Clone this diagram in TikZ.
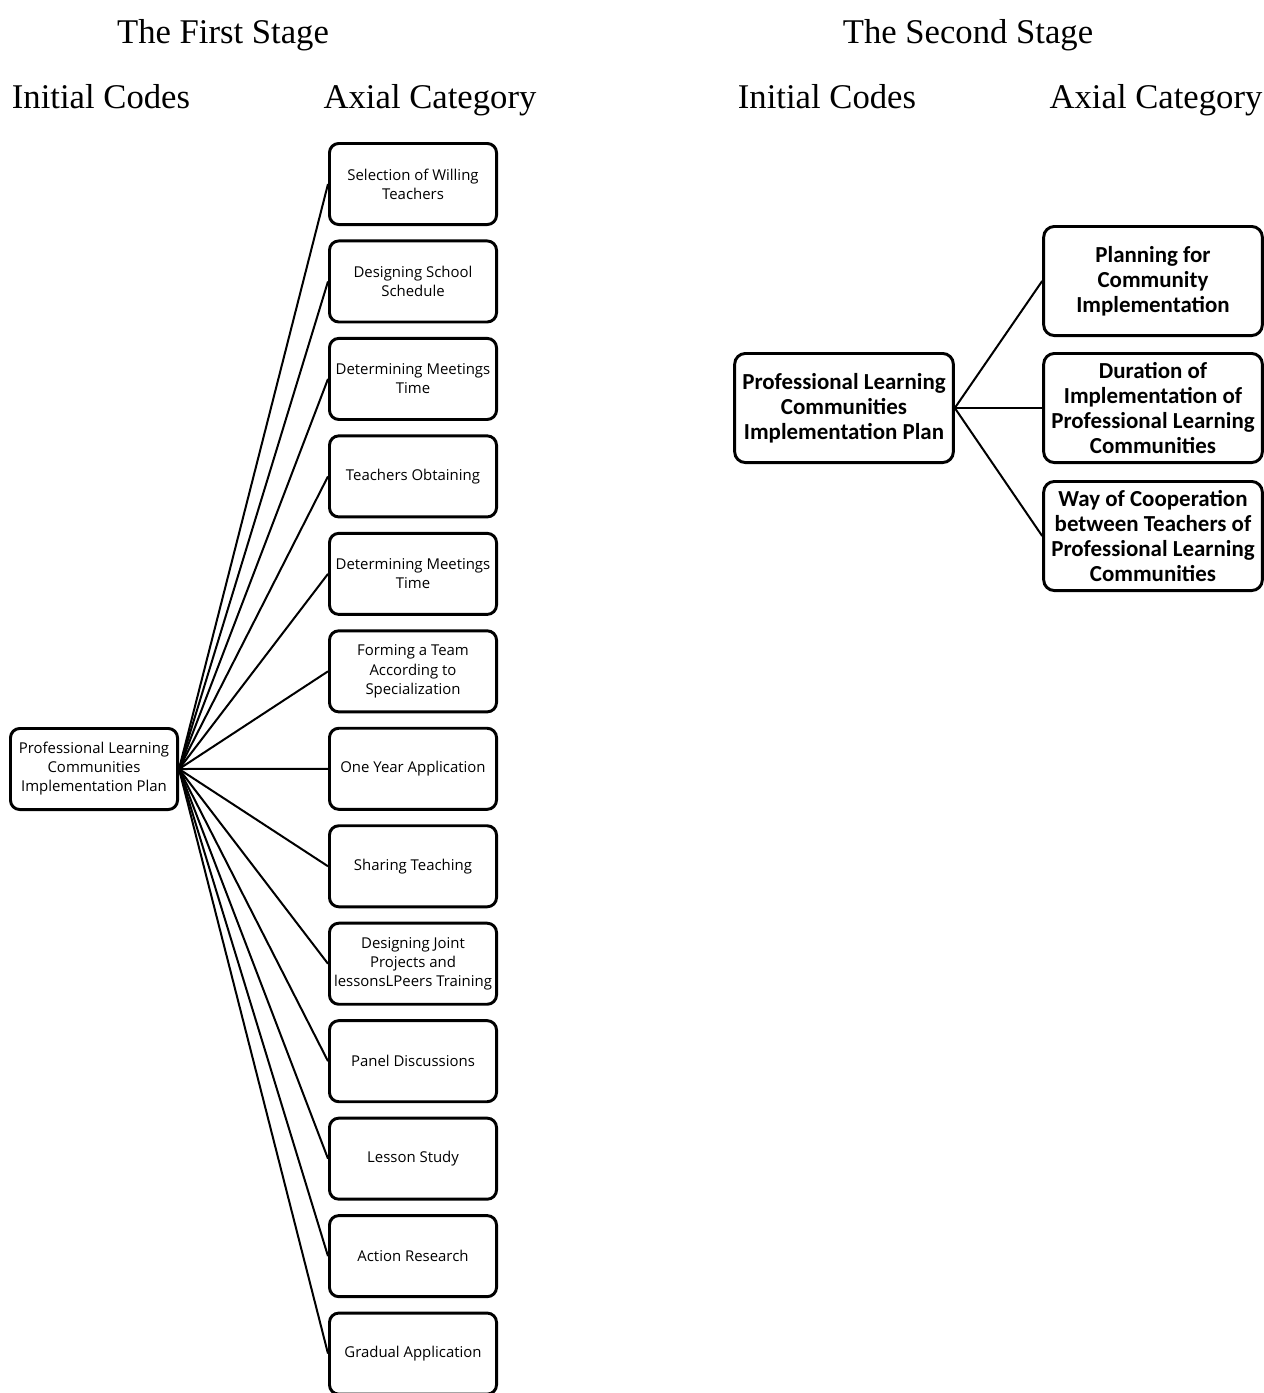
\documentclass[tikz,border=0pt]{standalone}
\usepackage{fontspec}
\setmainfont{Liberation Serif}
\newfontfamily\boxfont{Open Sans}
\newfontfamily\axialfont{Carlito}
\usetikzlibrary{positioning}

\begin{document}
\begin{tikzpicture}[
    x=0.75pt, y=-0.75pt,
    node distance=10.1pt,
    heading/.style={inner sep=0pt, anchor=base, font=\fontsize{26}{30}\selectfont},
    code/.style={draw, line width=2.2pt, rounded corners=7pt, align=center, inner sep=0pt, minimum width=125.3pt, minimum height=60.8pt, font=\boxfont\fontsize{11.2}{14.3}\selectfont},
    axial/.style={draw, line width=2.2pt, rounded corners=8pt, align=center, inner sep=0pt, minimum width=164pt, minimum height=81.8pt, font=\axialfont\bfseries\fontsize{17.2}{18.8}\selectfont},
    link/.style={line width=1.5pt}
]
\useasboundingbox (0,0) rectangle (1264,1393);

% headings
\node[heading] (stage1) at (223,43) {The First Stage};
\node[heading] (init1) at (101,108) {Initial Codes};
\node[heading] (axis1) at (430,108) {Axial Category};
\node[heading] (stage2) at (968,43) {The Second Stage};
\node[heading] (init2) at (827,108) {Initial Codes};
\node[heading] (axis2) at (1156,108) {Axial Category};

% first stage
\node[code] (plan1) at (94,769) {Professional Learning\\Communities\\Implementation Plan};
\node[code] (sel) at (413,184) {Selection of Willing\\Teachers};
\node[code, below=of sel] (sched) {Designing School\\Schedule};
\node[code, below=of sched] (meet1) {Determining Meetings\\Time};
\node[code, below=of meet1] (obtain) {Teachers Obtaining};
\node[code, below=of obtain] (meet2) {Determining Meetings\\Time};
\node[code, below=of meet2] (team) {Forming a Team\\According to\\Specialization};
\node[code, below=of team] (year) {One Year Application};
\node[code, below=of year] (share) {Sharing Teaching};
\node[code, below=of share] (joint) {Designing Joint\\Projects and\\lessonsLPeers Training};
\node[code, below=of joint] (panel) {Panel Discussions};
\node[code, below=of panel] (study) {Lesson Study};
\node[code, below=of study] (action) {Action Research};
\node[code, below=of action] (gradual) {Gradual Application};
\foreach \n in {sel,sched,meet1,obtain,meet2,team,year,share,joint,panel,study,action,gradual}
    \draw[link] (plan1.east) -- (\n.west);

% second stage
\node[axial] (plan2) at (844,408) {Professional Learning\\Communities\\Implementation Plan};
\node[axial] (planning) at (1153,281) {Planning for\\Community\\Implementation};
\node[axial] (duration) at (1153,408) {Duration of\\Implementation of\\Professional Learning\\Communities};
\node[axial] (coop) at (1153,536) {Way of Cooperation\\between Teachers of\\Professional Learning\\Communities};
\foreach \n in {planning,duration,coop}
    \draw[link] (plan2.east) -- (\n.west);
\end{tikzpicture}
\end{document}
